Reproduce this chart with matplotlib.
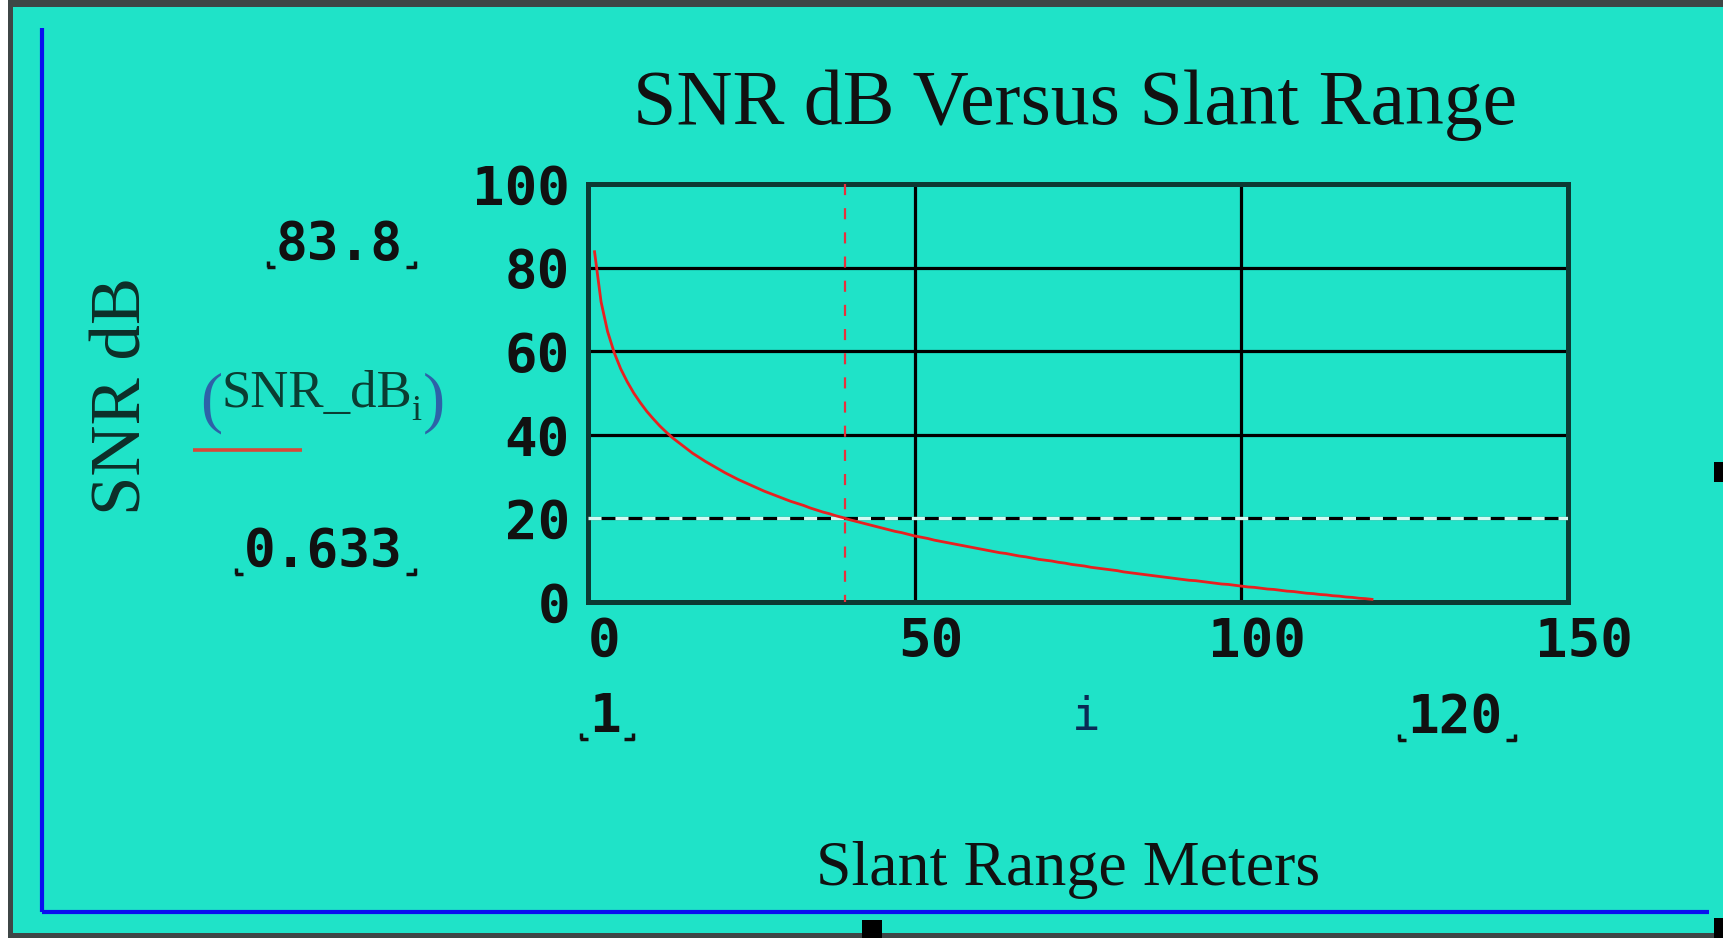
import matplotlib
matplotlib.use("Agg")
import matplotlib.pyplot as plt
import matplotlib.transforms as mtransforms
from matplotlib.patches import Rectangle
from matplotlib.lines import Line2D

# data
slant_range = list(range(1, 121))
snr_db = [
    83.8, 71.8, 64.7, 59.7, 55.8, 52.7, 50.0, 47.7, 45.6, 43.8,
    42.1, 40.6, 39.2, 38.0, 36.8, 35.6, 34.6, 33.6, 32.7, 31.8,
    30.9, 30.1, 29.3, 28.6, 27.9, 27.2, 26.5, 25.9, 25.3, 24.7,
    24.1, 23.6, 23.1, 22.5, 22.0, 21.5, 21.1, 20.6, 20.2, 19.7,
    19.3, 18.9, 18.5, 18.1, 17.7, 17.3, 16.9, 16.6, 16.2, 15.8,
    15.5, 15.2, 14.8, 14.5, 14.2, 13.9, 13.6, 13.3, 13.0, 12.7,
    12.4, 12.1, 11.8, 11.6, 11.3, 11.0, 10.8, 10.5, 10.2, 10.0,
    9.8, 9.5, 9.3, 9.0, 8.8, 8.6, 8.3, 8.1, 7.9, 7.7,
    7.5, 7.2, 7.0, 6.8, 6.6, 6.4, 6.2, 6.0, 5.8, 5.6,
    5.4, 5.2, 5.1, 4.9, 4.7, 4.5, 4.3, 4.2, 4.0, 3.8,
    3.6, 3.5, 3.3, 3.1, 3.0, 2.8, 2.6, 2.5, 2.3, 2.1,
    2.0, 1.8, 1.7, 1.5, 1.4, 1.2, 1.1, 0.9, 0.8, 0.63]
x_ticks = [0, 50, 100, 150]
y_ticks = [0, 20, 40, 60, 80, 100]
snr_marker = 20
range_marker = 39.4
y_hi_label = "83.8"
y_lo_label = "0.633"
x_lo_label = "1"
x_hi_label = "120"

W, H = 1724, 938
TEAL = "#1fe3c8"
SERIF = "Liberation Serif"
MONO = "DejaVu Sans Mono"
plt.rcParams["lines.scale_dashes"] = False


def fx(x):
    return x / W


def fy(y):
    return 1 - y / H


def rect(x0, y0, x1, y1, color, z=-5):
    fig.add_artist(Rectangle((fx(x0), fy(y1)), (x1 - x0) / W, (y1 - y0) / H,
                             transform=fig.transFigure, color=color, lw=0,
                             zorder=z))


def seg(xs, ys, color, lw):
    fig.add_artist(Line2D([fx(x) for x in xs], [fy(y) for y in ys],
                          transform=fig.transFigure, color=color, lw=lw,
                          solid_capstyle="butt", zorder=-1))


fig = plt.figure(figsize=(W / 100, H / 100), dpi=100, facecolor="white")

# frame / background
rect(8, 0, W, H, "#3e4646", -6)
rect(13, 7, W, 933, TEAL, -5)
seg([42, 42], [28, 912], "#0a10f0", 3)
seg([42, 1709], [912, 912], "#0a10f0", 3)
rect(1714, 462, W, 482, "black", -1)
rect(862, 920, 882, H, "black", -1)
rect(1714, 918, W, H, "black", -1)

# plot area
ax = fig.add_axes([fx(588), fy(602), (1568 - 588) / W, (602 - 184) / H])
ax.set_zorder(2)
ax.set_facecolor("none")
ax.set_xlim(0, 150)
ax.set_ylim(0, 100)
ax.set_xticks(x_ticks)
ax.set_yticks(y_ticks)
ax.set_xticklabels([str(v) for v in x_ticks], family=MONO, weight="bold", fontsize=39)
ax.set_yticklabels([str(v) for v in y_ticks], family=MONO, weight="bold", fontsize=39)
ax.tick_params(length=0, colors="#111111")
ax.tick_params(axis="x", pad=10)
ax.tick_params(axis="y", pad=13)
shift = mtransforms.ScaledTranslation(0.16, 0, fig.dpi_scale_trans)
for lab in ax.get_xticklabels():
    lab.set_transform(lab.get_transform() + shift)
ax.grid(True, color="black", lw=2.3)
for sp in ax.spines.values():
    sp.set_color("#0c3a33")
    sp.set_linewidth(3.6)

ax.plot([0, 150], [snr_marker, snr_marker], color="#d2fbf3", lw=2.4,
        dashes=(9.4, 10), zorder=3)
ax.plot([range_marker, range_marker], [100, 0], color="#e8303c", lw=1.6,
        dashes=(8, 9.4), zorder=3)
ax.plot(slant_range, snr_db, color="#e82020", lw=2.0, zorder=4)

# titles
fig.text(fx(1075), fy(124), "SNR dB Versus Slant Range", family=SERIF,
         fontsize=56, ha="center", va="baseline", color="#111111")
fig.text(fx(816), fy(885), "Slant Range Meters", family=SERIF,
         fontsize=46, ha="left", va="baseline", color="#111111")
fig.text(fx(141), fy(396), "SNR dB", family=SERIF, fontsize=51,
         rotation=90, ha="center", va="baseline", rotation_mode="anchor",
         color="#0d2e28")

# legend entry
fig.text(fx(222), fy(407), "SNR_dB", family=SERIF, fontsize=38,
         ha="left", va="baseline", color="#0b3d32")
fig.text(fx(411), fy(420), "i", family=SERIF, fontsize=26,
         ha="left", va="baseline", color="#0b3d32")
fig.text(fx(200), fy(420), "(", family=SERIF, fontsize=48,
         ha="left", va="baseline", color="#2d62a8")
fig.text(fx(423), fy(420), ")", family=SERIF, fontsize=48,
         ha="left", va="baseline", color="#2d62a8")
seg([193, 302], [450, 450], "#d9473a", 2.6)

# range limit labels
limit_texts = [
    fig.text(fx(403), fy(260), y_hi_label, family=MONO, weight="bold",
             fontsize=38, ha="right", va="baseline", color="#111111"),
    fig.text(fx(403), fy(567), y_lo_label, family=MONO, weight="bold",
             fontsize=38, ha="right", va="baseline", color="#111111"),
    fig.text(fx(605), fy(732), x_lo_label, family=MONO, weight="bold",
             fontsize=38, ha="center", va="baseline", color="#111111"),
    fig.text(fx(1455), fy(733), x_hi_label, family=MONO, weight="bold",
             fontsize=38, ha="center", va="baseline", color="#111111"),
]
fig.text(fx(1086), fy(730), "i", family=MONO, fontsize=34,
         ha="center", va="baseline", color="#0a2a55")

fig.canvas.draw()
for t in limit_texts:
    bb = t.get_window_extent()
    x0, x1 = bb.x0, bb.x1
    base = H - t.get_position()[1] * H
    # little corner placeholders
    seg([x0 - 8, x0 - 8], [base + 1, base + 7], "#111111", 2.5)
    seg([x0 - 9, x0 - 1], [base + 7, base + 7], "#111111", 2.5)
    seg([x1 + 3, x1 + 13], [base + 7, base + 7], "#111111", 2.5)
    seg([x1 + 12, x1 + 12], [base + 1, base + 8], "#111111", 2.5)

fig.savefig("out.png", dpi=100, facecolor=fig.get_facecolor())
